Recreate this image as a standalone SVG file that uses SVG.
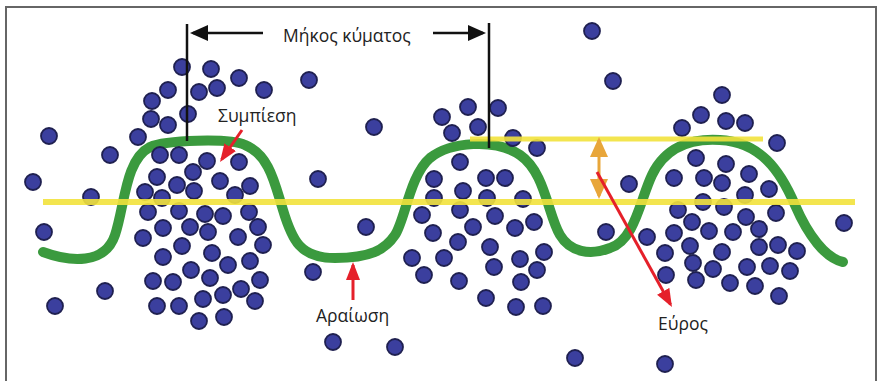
<svg xmlns="http://www.w3.org/2000/svg" width="879" height="381" viewBox="0 0 879 381">
  <style>
    .p { fill: #3b3f9e; stroke: #1f2050; stroke-width: 1.8; }
    .lbl { font-family: "Open Sans", "Noto Sans", "DejaVu Sans", sans-serif; font-size: 17.5px; fill: #222; }
    .lvl { stroke: #f2e23c; fill: none; opacity: 0.9; }
    .blk { stroke: #111; stroke-width: 2.5; fill: none; }
    .red { stroke: #e5202a; stroke-width: 3; fill: none; }
    .org { stroke: #e8a63a; stroke-width: 3; fill: none; }
  </style>
  <defs>
    <marker id="ah-black" markerUnits="userSpaceOnUse" markerWidth="20" markerHeight="16" refX="15" refY="8" orient="auto">
      <path d="M0,0 L18,8 L0,16 z" fill="#111"/>
    </marker>
    <marker id="ah-red" markerUnits="userSpaceOnUse" markerWidth="20" markerHeight="16" refX="15" refY="8" orient="auto">
      <path d="M0,1 L18,8 L0,15 z" fill="#e5202a"/>
    </marker>
    <marker id="ah-orange" markerUnits="userSpaceOnUse" markerWidth="22" markerHeight="18" refX="17" refY="9" orient="auto-start-reverse">
      <path d="M0,0 L20,9 L0,18 z" fill="#e8a63a"/>
    </marker>
  </defs>

  <rect width="879" height="381" fill="#fff"/>
  <rect id="frame" x="6" y="7" width="870" height="382" fill="none" stroke="#666" stroke-width="2"/>

  <!-- the sound wave -->
  <g id="wave">
    <path d="M43,252 C70,262 105,265 115,235 C125,205 125,160 150,147 C165,140 230,138 245,145 C270,155 275,185 283,210 C292,240 300,258 335,258 C370,258 385,250 395,235 C405,220 410,175 430,158 C450,142 495,138 520,155 C545,172 548,215 560,235 C570,252 590,256 610,248 C635,240 640,200 652,175 C665,148 690,138 720,140 C760,142 780,170 795,205 C808,235 825,258 843,262" fill="none" stroke="#3b9a3e" stroke-width="10" stroke-linecap="round"/>
  </g>

  <!-- air particles -->
  <g id="particles">
    <circle class="p" cx="49" cy="136" r="8"/>
    <circle class="p" cx="33" cy="182" r="8"/>
    <circle class="p" cx="91" cy="197" r="8"/>
    <circle class="p" cx="44" cy="232" r="8"/>
    <circle class="p" cx="105" cy="291" r="8"/>
    <circle class="p" cx="55" cy="306" r="8"/>
    <circle class="p" cx="182" cy="67" r="8"/>
    <circle class="p" cx="211" cy="69" r="8"/>
    <circle class="p" cx="239" cy="78" r="8"/>
    <circle class="p" cx="168" cy="90" r="8"/>
    <circle class="p" cx="199" cy="92" r="8"/>
    <circle class="p" cx="217" cy="88" r="8"/>
    <circle class="p" cx="264" cy="90" r="8"/>
    <circle class="p" cx="152" cy="101" r="8"/>
    <circle class="p" cx="188" cy="114" r="8"/>
    <circle class="p" cx="151" cy="119" r="8"/>
    <circle class="p" cx="168" cy="125" r="8"/>
    <circle class="p" cx="138" cy="137" r="8"/>
    <circle class="p" cx="110" cy="155" r="8"/>
    <circle class="p" cx="160" cy="155" r="8"/>
    <circle class="p" cx="179" cy="155" r="8"/>
    <circle class="p" cx="207" cy="161" r="8"/>
    <circle class="p" cx="239" cy="162" r="8"/>
    <circle class="p" cx="193" cy="172" r="8"/>
    <circle class="p" cx="157" cy="177" r="8"/>
    <circle class="p" cx="220" cy="181" r="8"/>
    <circle class="p" cx="177" cy="185" r="8"/>
    <circle class="p" cx="250" cy="186" r="8"/>
    <circle class="p" cx="194" cy="191" r="8"/>
    <circle class="p" cx="145" cy="192" r="8"/>
    <circle class="p" cx="235" cy="195" r="8"/>
    <circle class="p" cx="162" cy="198" r="8"/>
    <circle class="p" cx="148" cy="212" r="8"/>
    <circle class="p" cx="179" cy="211" r="8"/>
    <circle class="p" cx="205" cy="214" r="8"/>
    <circle class="p" cx="223" cy="216" r="8"/>
    <circle class="p" cx="249" cy="212" r="8"/>
    <circle class="p" cx="163" cy="228" r="8"/>
    <circle class="p" cx="190" cy="227" r="8"/>
    <circle class="p" cx="208" cy="232" r="8"/>
    <circle class="p" cx="258" cy="227" r="8"/>
    <circle class="p" cx="143" cy="238" r="8"/>
    <circle class="p" cx="238" cy="237" r="8"/>
    <circle class="p" cx="263" cy="245" r="8"/>
    <circle class="p" cx="182" cy="246" r="8"/>
    <circle class="p" cx="212" cy="253" r="8"/>
    <circle class="p" cx="163" cy="257" r="8"/>
    <circle class="p" cx="228" cy="265" r="8"/>
    <circle class="p" cx="250" cy="261" r="8"/>
    <circle class="p" cx="191" cy="270" r="8"/>
    <circle class="p" cx="210" cy="278" r="8"/>
    <circle class="p" cx="153" cy="281" r="8"/>
    <circle class="p" cx="173" cy="282" r="8"/>
    <circle class="p" cx="260" cy="280" r="8"/>
    <circle class="p" cx="241" cy="289" r="8"/>
    <circle class="p" cx="223" cy="295" r="8"/>
    <circle class="p" cx="203" cy="299" r="8"/>
    <circle class="p" cx="255" cy="301" r="8"/>
    <circle class="p" cx="157" cy="306" r="8"/>
    <circle class="p" cx="179" cy="306" r="8"/>
    <circle class="p" cx="199" cy="321" r="8"/>
    <circle class="p" cx="224" cy="317" r="8"/>

    <circle class="p" cx="309" cy="80" r="8"/>
    <circle class="p" cx="374" cy="127" r="8"/>
    <circle class="p" cx="318" cy="179" r="8"/>
    <circle class="p" cx="366" cy="227" r="8"/>
    <circle class="p" cx="313" cy="272" r="8"/>
    <circle class="p" cx="333" cy="342" r="8"/>
    <circle class="p" cx="395" cy="347" r="8"/>
    <circle class="p" cx="468" cy="107" r="8"/>
    <circle class="p" cx="498" cy="108" r="8"/>
    <circle class="p" cx="442" cy="117" r="8"/>
    <circle class="p" cx="478" cy="127" r="8"/>
    <circle class="p" cx="452" cy="133" r="8"/>
    <circle class="p" cx="513" cy="138" r="8"/>
    <circle class="p" cx="537" cy="148" r="8"/>
    <circle class="p" cx="460" cy="162" r="8"/>
    <circle class="p" cx="434" cy="179" r="8"/>
    <circle class="p" cx="486" cy="178" r="8"/>
    <circle class="p" cx="505" cy="178" r="8"/>
    <circle class="p" cx="463" cy="191" r="8"/>
    <circle class="p" cx="434" cy="198" r="8"/>
    <circle class="p" cx="487" cy="198" r="8"/>
    <circle class="p" cx="523" cy="199" r="8"/>
    <circle class="p" cx="422" cy="215" r="8"/>
    <circle class="p" cx="460" cy="210" r="8"/>
    <circle class="p" cx="495" cy="216" r="8"/>
    <circle class="p" cx="534" cy="222" r="8"/>
    <circle class="p" cx="515" cy="228" r="8"/>
    <circle class="p" cx="473" cy="227" r="8"/>
    <circle class="p" cx="433" cy="233" r="8"/>
    <circle class="p" cx="458" cy="242" r="8"/>
    <circle class="p" cx="490" cy="247" r="8"/>
    <circle class="p" cx="544" cy="252" r="8"/>
    <circle class="p" cx="412" cy="258" r="8"/>
    <circle class="p" cx="444" cy="258" r="8"/>
    <circle class="p" cx="520" cy="259" r="8"/>
    <circle class="p" cx="494" cy="267" r="8"/>
    <circle class="p" cx="537" cy="270" r="8"/>
    <circle class="p" cx="424" cy="275" r="8"/>
    <circle class="p" cx="459" cy="281" r="8"/>
    <circle class="p" cx="521" cy="282" r="8"/>
    <circle class="p" cx="486" cy="298" r="8"/>
    <circle class="p" cx="516" cy="307" r="8"/>
    <circle class="p" cx="543" cy="306" r="8"/>

    <circle class="p" cx="592" cy="31" r="8"/>
    <circle class="p" cx="613" cy="81" r="8"/>
    <circle class="p" cx="575" cy="358" r="8"/>
    <circle class="p" cx="665" cy="364" r="8"/>
    <circle class="p" cx="722" cy="95" r="8"/>
    <circle class="p" cx="701" cy="115" r="8"/>
    <circle class="p" cx="726" cy="121" r="8"/>
    <circle class="p" cx="745" cy="123" r="8"/>
    <circle class="p" cx="682" cy="128" r="8"/>
    <circle class="p" cx="777" cy="143" r="8"/>
    <circle class="p" cx="696" cy="158" r="8"/>
    <circle class="p" cx="726" cy="164" r="8"/>
    <circle class="p" cx="749" cy="174" r="8"/>
    <circle class="p" cx="629" cy="184" r="8"/>
    <circle class="p" cx="674" cy="178" r="8"/>
    <circle class="p" cx="704" cy="178" r="8"/>
    <circle class="p" cx="722" cy="183" r="8"/>
    <circle class="p" cx="769" cy="189" r="8"/>
    <circle class="p" cx="745" cy="195" r="8"/>
    <circle class="p" cx="703" cy="202" r="8"/>
    <circle class="p" cx="724" cy="207" r="8"/>
    <circle class="p" cx="678" cy="210" r="8"/>
    <circle class="p" cx="606" cy="232" r="8"/>
    <circle class="p" cx="647" cy="237" r="8"/>
    <circle class="p" cx="692" cy="222" r="8"/>
    <circle class="p" cx="746" cy="217" r="8"/>
    <circle class="p" cx="776" cy="213" r="8"/>
    <circle class="p" cx="674" cy="233" r="8"/>
    <circle class="p" cx="709" cy="231" r="8"/>
    <circle class="p" cx="733" cy="232" r="8"/>
    <circle class="p" cx="759" cy="229" r="8"/>
    <circle class="p" cx="665" cy="253" r="8"/>
    <circle class="p" cx="690" cy="246" r="8"/>
    <circle class="p" cx="722" cy="252" r="8"/>
    <circle class="p" cx="759" cy="247" r="8"/>
    <circle class="p" cx="778" cy="245" r="8"/>
    <circle class="p" cx="797" cy="251" r="8"/>
    <circle class="p" cx="693" cy="263" r="8"/>
    <circle class="p" cx="713" cy="269" r="8"/>
    <circle class="p" cx="747" cy="267" r="8"/>
    <circle class="p" cx="770" cy="266" r="8"/>
    <circle class="p" cx="790" cy="271" r="8"/>
    <circle class="p" cx="666" cy="275" r="8"/>
    <circle class="p" cx="696" cy="280" r="8"/>
    <circle class="p" cx="730" cy="283" r="8"/>
    <circle class="p" cx="755" cy="286" r="8"/>
    <circle class="p" cx="779" cy="296" r="8"/>
    <circle class="p" cx="844" cy="223" r="8"/>
  </g>

  <!-- rest level and crest level -->
  <g id="levels">
    <line class="lvl" x1="43" y1="202" x2="855" y2="202" stroke-width="6"/>
    <line class="lvl" x1="470" y1="139" x2="763" y2="139" stroke-width="5"/>
  </g>

  <!-- wavelength marker -->
  <g id="wavelength">
    <line class="blk" x1="187" y1="24" x2="187" y2="141"/>
    <line class="blk" x1="489" y1="23" x2="489" y2="148"/>
    <line class="blk" x1="263" y1="33" x2="193" y2="33" stroke-width="3" marker-end="url(#ah-black)"/>
    <line class="blk" x1="433" y1="33" x2="483" y2="33" stroke-width="3" marker-end="url(#ah-black)"/>
    <text class="lbl" x="283" y="42">Μήκος κύματος</text>
  </g>

  <g id="compression">
    <line class="red" x1="242" y1="130" x2="221.7" y2="159.5" marker-end="url(#ah-red)"/>
    <text class="lbl" x="218" y="122">Συμπίεση</text>
  </g>

  <g id="rarefaction">
    <line class="red" x1="353" y1="300" x2="353" y2="265" marker-end="url(#ah-red)"/>
    <text class="lbl" x="316" y="322">Αραίωση</text>
  </g>

  <g id="amplitude">
    <line class="org" x1="599" y1="140" x2="599" y2="196" marker-start="url(#ah-orange)" marker-end="url(#ah-orange)"/>
    <line class="red" x1="597" y1="172" x2="670.5" y2="304.4" stroke-width="2.5" marker-end="url(#ah-red)"/>
    <text class="lbl" x="658" y="330">Εύρος</text>
  </g>
</svg>
